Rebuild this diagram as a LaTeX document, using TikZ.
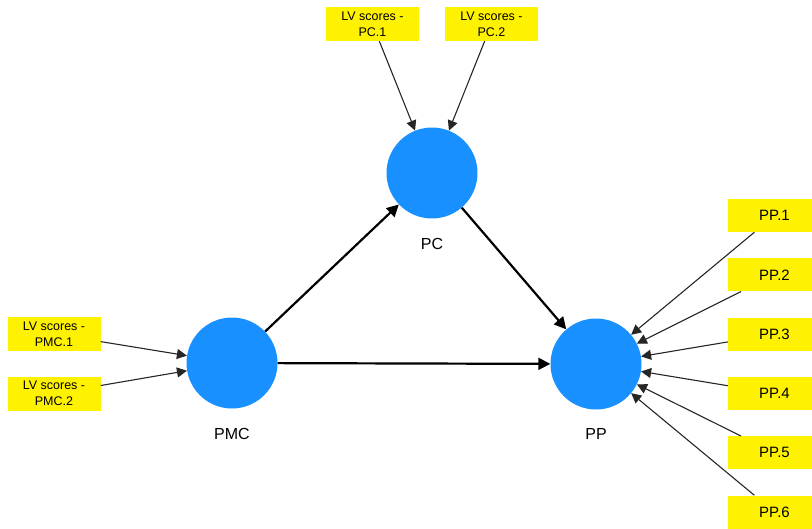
\documentclass[tikz,border=0pt]{standalone}
\usepackage{fontspec}
\setmainfont{Liberation Sans}
\usetikzlibrary{shapes,arrows.meta,positioning}

\definecolor{lvblue}{RGB}{24,144,255}

\tikzset{
  latent/.style={circle, fill=lvblue, minimum size=91pt, inner sep=0pt},
  lvname/.style={inner sep=2pt, font=\fontsize{16}{18}\selectfont},
  scorebox/.style={fill=yellow, minimum width=93pt, minimum height=34pt, inner sep=0pt,
    align=center, font=\fontsize{12.5}{16}\selectfont},
  itembox/.style={fill=yellow, minimum width=93pt, minimum height=33pt, inner sep=0pt,
    font=\fontsize{15}{18}\selectfont},
  pathline/.style={line width=2.2pt, -{Triangle[length=12pt,width=12pt]}},
  loading/.style={line width=1.1pt, draw=black!85, -{Triangle[length=10pt,width=10pt]}}
}

\begin{document}
\begin{tikzpicture}[x=1pt, y=-1pt]
\clip (0,0) rectangle (812,528);

% latent variables
\node[latent] (pc) at (432,173) {};
\node[latent] (pmc) at (232,363) {};
\node[latent] (pp) at (596,364) {};

\node[lvname, below=17pt of pc] (pcname) {PC};
\node[lvname, below=17pt of pmc] (pmcname) {PMC};
\node[lvname, below=17pt of pp] (ppname) {PP};

% indicators
\node[scorebox] (pc1) at (372.5,24) {LV scores -\\PC.1};
\node[scorebox] (pc2) at (491.5,24) {LV scores -\\PC.2};
\node[scorebox] (pmc1) at (54,334) {LV scores -\\PMC.1};
\node[scorebox] (pmc2) at (54,393.5) {LV scores -\\PMC.2};

\foreach \i in {1,...,6}
  \node[itembox] (pp\i) at (774.5,{215.5+59.3*(\i-1)}) {PP.\i};

% loadings
\draw[loading] (pc1) -- (pc);
\draw[loading] (pc2) -- (pc);
\draw[loading] (pmc1) -- (pmc);
\draw[loading] (pmc2) -- (pmc);
\foreach \i in {1,...,6}
  \draw[loading] (pp\i) -- (pp);

% structural paths
\draw[pathline] (pmc) -- (pc);
\draw[pathline] (pc) -- (pp);
\draw[pathline] (pmc) -- (pp);
\end{tikzpicture}
\end{document}
